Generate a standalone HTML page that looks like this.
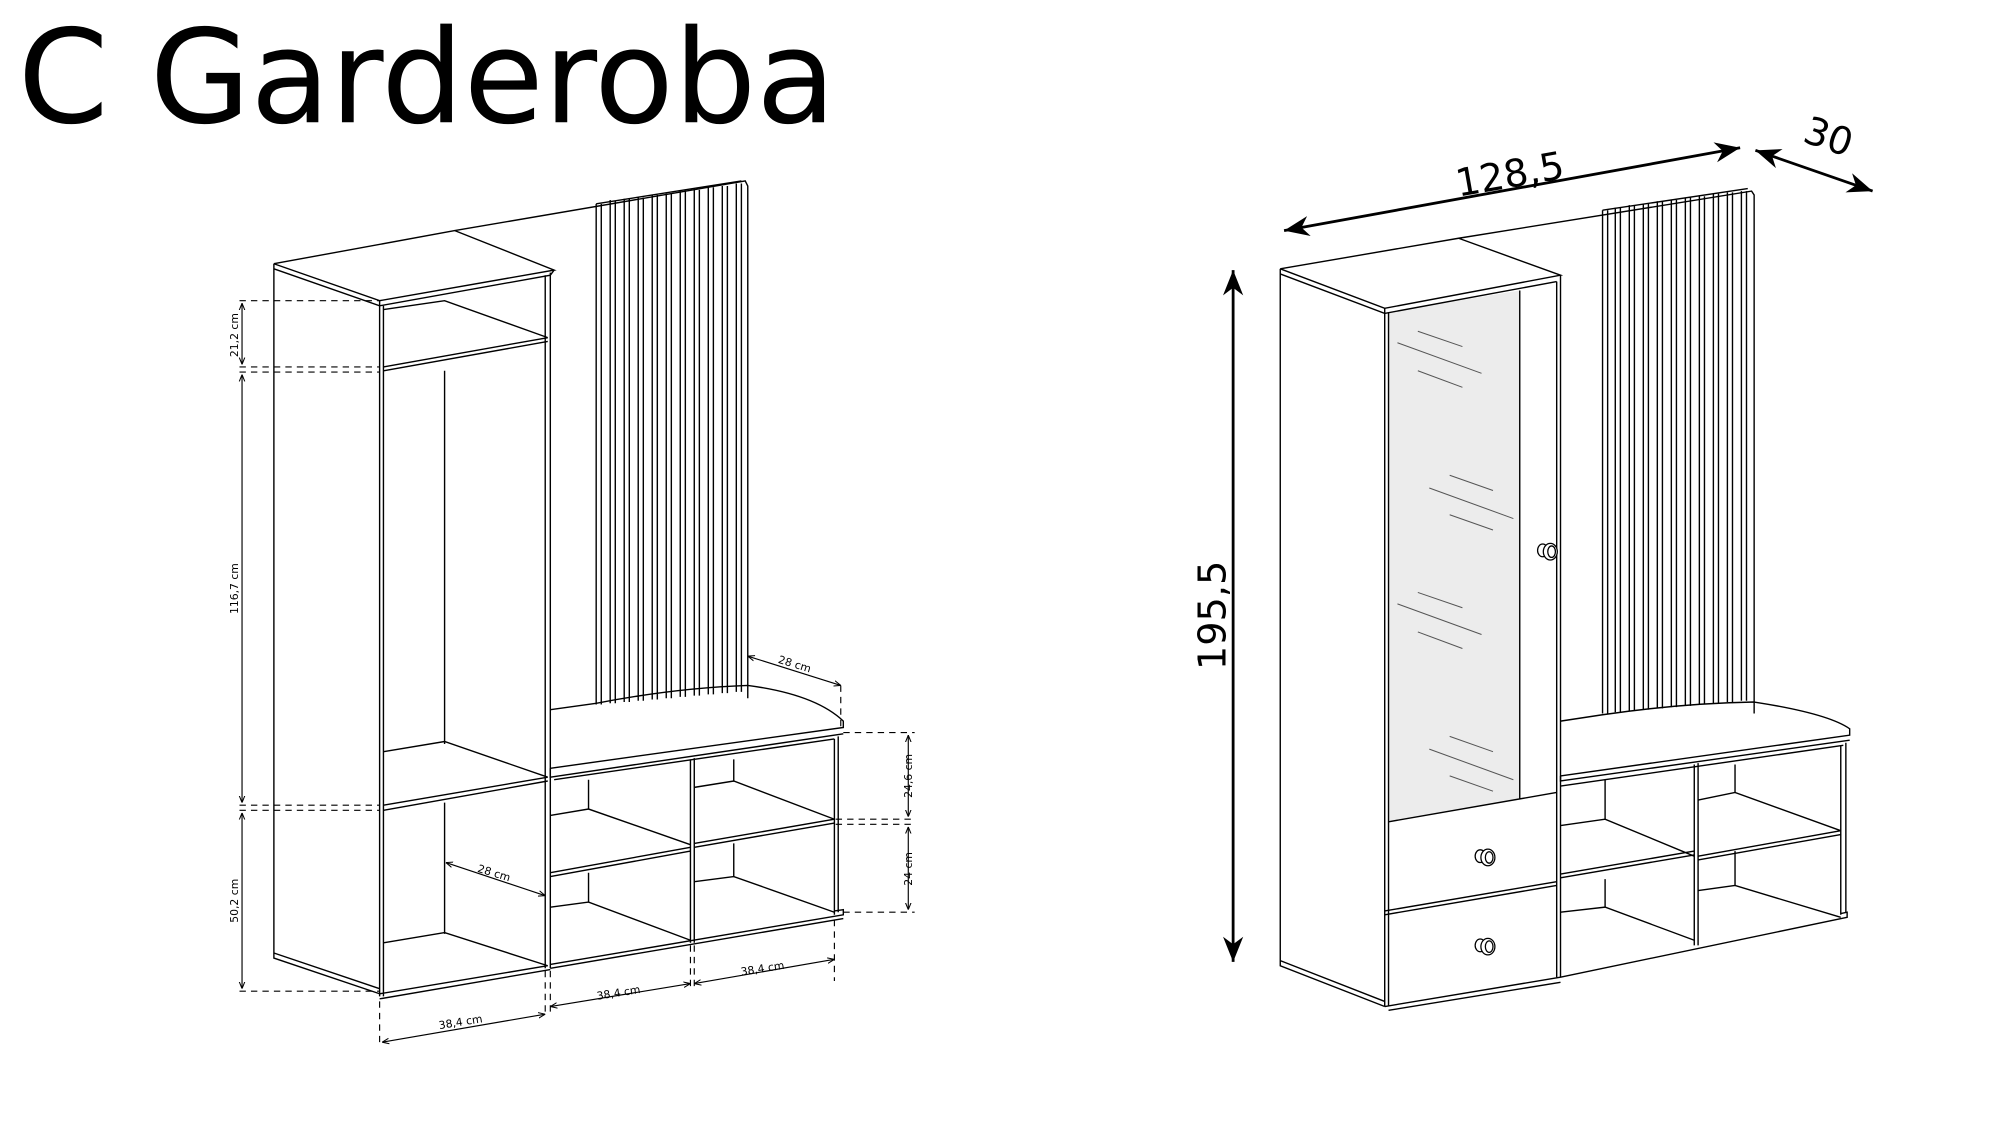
<!DOCTYPE html>
<html><head><meta charset="utf-8"><style>
html,body{margin:0;padding:0;background:#fff;}
svg{display:block;}
</style></head><body>
<svg width="2000" height="1125" viewBox="0 0 1570 883" preserveAspectRatio="none" xmlns="http://www.w3.org/2000/svg">
<defs>
<marker id="a" viewBox="0 0 10 10" refX="10" refY="5" markerWidth="6" markerHeight="6" orient="auto-start-reverse"><path d="M0,1 L10,5 L0,9" fill="none" stroke="#000" stroke-width="1.5"/></marker>
<marker id="b" viewBox="0 0 20 20" refX="20" refY="10" markerWidth="9" markerHeight="9" orient="auto-start-reverse"><path d="M0,2 L20,10 L0,18 L6,10 Z" fill="#000"/></marker>
</defs>
<text x="14" y="96" font-family="DejaVu Sans, sans-serif" font-size="102">C Garderoba</text>

<g fill="none" stroke="#000" stroke-width="1.1">
<path d="M215,207 L357,181 L585,142 L587,146 L587,548"/>
<path d="M215,207 L298,236 L435,212 L357,181"/>
<path d="M215,211 L298,240 L432,216 L435,212"/>
<path d="M215,207 L215,752 L298,780"/>
<path d="M215,748 L298,776"/>
<path d="M298,236 L298,782 M301,240 L301,782"/>
<path d="M428,216 L428,760 M432,214 L432,760"/>
<path d="M349,291 L349,584 M349,630 L349,733"/>
<path d="M301,243 L349,236 L430,265 M301,288 L430,265 M301,291 L430,268"/>
<path d="M301,590 L349,582 L430,610 M301,632 L430,610 M301,636 L430,613"/>
<path d="M301,740 L349,732 L430,758 M298,780 L430,758 M298,784 L432,761"/>
<path d="M468,160 L468,553 M472,160 L472,553 M479,157 L479,552 M483,158 L483,552 M490,156 L490,551 M494,156 L494,551 M501,155 L501,550 M505,155 L505,550 M512,153 L512,549 M516,153 L516,549 M523,152 L523,548 M527,152 L527,548 M534,150 L534,547 M538,150 L538,547 M545,149 L545,546 M549,149 L549,546 M556,147 L556,545 M560,147 L560,545 M567,146 L567,544 M571,146 L571,544 M578,144 L578,543 M582,144 L582,543"/>
<path d="M468,160 L582,142"/>
<path d="M432,557 L468,552 Q530,540 587,538 Q640,545 662,566 L662,571 L432,603"/>
<path d="M432,603 L432,610 L662,576 M435,612 L655,580"/>
<path d="M655,580 L655,718 M658,578 L658,716"/>
<path d="M542,596 L542,740 M545,595 L545,740"/>
<path d="M432,757 L662,718 L662,714 L655,715 M432,760 L662,721"/>
<path d="M462,612 L462,635 M462,685 L462,708"/>
<path d="M432,640 L462,635 L542,663 M432,685 L542,665 M432,688 L542,668"/>
<path d="M432,712 L462,708 L542,738"/>
<path d="M576,596 L576,613 M576,662 L576,688"/>
<path d="M545,618 L576,613 L655,643 M545,662 L655,643 M545,665 L655,646"/>
<path d="M545,692 L576,688 L655,716"/>
</g>
<g fill="none" stroke="#000" stroke-width="0.9" stroke-dasharray="5,4">
<path d="M188,236 L298,236 M188,288 L298,288 M188,292 L298,292 M188,632 L298,632 M188,636 L298,636 M188,778 L298,778"/>
<path d="M662,575 L718,575 M656,643 L718,643 M656,647 L718,647 M662,716 L718,716"/>
<path d="M660,538 L660,572"/>
<path d="M298,786 L298,822 M428,762 L428,796 M432,762 L432,796 M542,742 L542,776 M545,742 L545,776 M655,722 L655,770"/>
</g>
<g fill="none" stroke="#000" stroke-width="0.9" marker-start="url(#a)" marker-end="url(#a)">
<path d="M190,238 L190,286"/>
<path d="M190,294 L190,630"/>
<path d="M190,638 L190,776"/>
<path d="M713,577 L713,641"/>
<path d="M713,649 L713,714"/>
<path d="M587,515 L660,538"/>
<path d="M350,677 L428,703"/>
<path d="M300,818 L428,796"/>
<path d="M432,790 L542,772"/>
<path d="M545,772 L655,753"/>
</g>
<g font-family="DejaVu Sans, sans-serif" font-size="8.5" text-anchor="middle">
<text transform="translate(187,263) rotate(-90)">21,2 cm</text>
<text transform="translate(187,462) rotate(-90)">116,7 cm</text>
<text transform="translate(187,707) rotate(-90)">50,2 cm</text>
<text transform="translate(716,609) rotate(-90)">24,6 cm</text>
<text transform="translate(716,682) rotate(-90)">24 cm</text>
<text transform="translate(623,524) rotate(17)">28 cm</text>
<text transform="translate(387,688) rotate(17)">28 cm</text>
<text transform="translate(362,805) rotate(-9)">38,4 cm</text>
<text transform="translate(486,782) rotate(-9)">38,4 cm</text>
<text transform="translate(599,763) rotate(-9)">38,4 cm</text>
</g>

<polygon points="1090,245 1193,228 1193,627 1090,645" fill="#ececec"/>
<g fill="none" stroke="#000" stroke-width="1.1">
<path d="M1005,211 L1145,187 L1375,150 L1377,153 L1377,560"/>
<path d="M1005,211 L1087,242 L1225,216 L1145,187"/>
<path d="M1005,215 L1087,246 L1222,221"/>
<path d="M1005,211 L1005,758 L1087,790 M1005,754 L1087,786"/>
<path d="M1087,242 L1087,790 M1090,245 L1090,790"/>
<path d="M1225,216 L1225,767 M1222,221 L1222,767"/>
<path d="M1193,228 L1193,627 M1090,645 L1222,622 M1087,715 L1222,692 M1087,718 L1222,695"/>
<path d="M1087,790 L1225,767 L1450,720 L1450,716 L1445,717 M1090,793 L1225,771"/>
<path d="M1258,165 L1258,560 M1262,165 L1262,560 M1268,163 L1268,559 M1272,163 L1272,559 M1279,161 L1279,558 M1283,161 L1283,558 M1290,160 L1290,557 M1294,160 L1294,557 M1301,158 L1301,556 M1305,158 L1305,556 M1312,157 L1312,555 M1316,157 L1316,555 M1323,155 L1323,554 M1327,155 L1327,554 M1334,154 L1334,553 M1338,154 L1338,553 M1345,152 L1345,552 M1349,152 L1349,552 M1356,151 L1356,551 M1360,151 L1360,551 M1367,150 L1367,550 M1371,150 L1371,550"/>
<path d="M1258,165 L1372,148"/>
<path d="M1225,566 L1258,561 Q1320,552 1377,551 Q1435,560 1452,572 L1452,577 L1225,609"/>
<path d="M1225,609 L1225,613 L1452,581 M1225,617 L1447,585"/>
<path d="M1445,585 L1445,718 M1449,583 L1449,716"/>
<path d="M1330,600 L1330,742 M1333,599 L1333,742"/>
<path d="M1260,612 L1260,643 M1260,690 L1260,712"/>
<path d="M1225,648 L1260,643 L1330,672 M1225,686 L1330,668 M1225,689 L1330,671"/>
<path d="M1225,716 L1260,712 L1330,738"/>
<path d="M1362,600 L1362,622 M1362,668 L1362,695"/>
<path d="M1333,628 L1362,622 L1445,652 M1333,672 L1445,652 M1333,675 L1445,655"/>
<path d="M1333,699 L1362,695 L1445,720"/>
</g>
<g stroke="#555" stroke-width="0.8">
<path d="M1113,260 L1148,272 M1097,269 L1163,293 M1113,291 L1148,304"/>
<path d="M1138,373 L1172,385 M1122,383 L1188,407 M1138,404 L1172,416"/>
<path d="M1113,465 L1148,477 M1097,474 L1163,498 M1113,496 L1148,509"/>
<path d="M1138,578 L1172,590 M1122,588 L1188,612 M1138,609 L1172,621"/>
</g>
<g fill="#fff" stroke="#000" stroke-width="1">
<ellipse cx="1211" cy="432" rx="4" ry="5"/><ellipse cx="1217" cy="433" rx="5.5" ry="6.5"/><ellipse cx="1218" cy="433" rx="3" ry="4.5"/>
<ellipse cx="1162" cy="672" rx="4" ry="5"/><ellipse cx="1168" cy="673" rx="5.5" ry="6.5"/><ellipse cx="1169" cy="673" rx="3" ry="4.5"/>
<ellipse cx="1162" cy="742" rx="4" ry="5"/><ellipse cx="1168" cy="743" rx="5.5" ry="6.5"/><ellipse cx="1169" cy="743" rx="3" ry="4.5"/>
</g>
<g stroke="#000" stroke-width="2.2" fill="none" marker-start="url(#b)" marker-end="url(#b)">
<path d="M1008,181 L1366,116"/>
<path d="M1378,118 L1470,150"/>
<path d="M968,212 L968,755"/>
</g>
<g font-family="DejaVu Sans, sans-serif" font-size="30" text-anchor="middle">
<text transform="translate(1187,147) rotate(-10)">128,5</text>
<text transform="translate(1432,117) rotate(19)">30</text>
<text transform="translate(962,483) rotate(-90)">195,5</text>
</g>
</svg>
</body></html>
